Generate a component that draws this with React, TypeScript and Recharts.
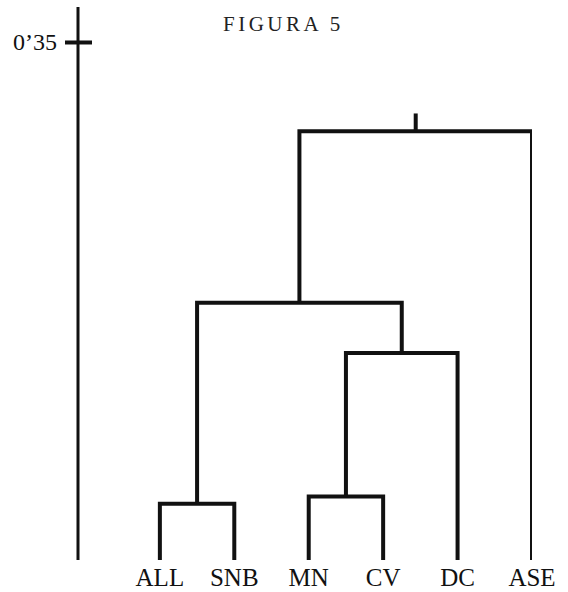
import React from 'react';
import { LineChart, Line, XAxis, YAxis } from 'recharts';

// leaves of the dendrogram, left to right
const leaves = ['ALL', 'SNB', 'MN', 'CV', 'DC', 'ASE'];

// merges: which nodes join and at what distance
// node ids: 0..5 are leaves, 6.. are merges in this order
const mergeLeft = [0, 2, 7, 6, 9];
const mergeRight = [1, 3, 4, 8, 5];
const mergeHeights = [0.038, 0.043, 0.14, 0.174, 0.29];
const rootTop = 0.302;

const yTicks = [0.35];
const yTickLabels = ["0\u201935"];

const FONT = '"Liberation Serif", "DejaVu Serif", serif';

type Pt = { x: number; y: number };

// position / height of every node
const nodeX: number[] = leaves.map((_, i) => i);
const nodeH: number[] = leaves.map(() => 0);
mergeHeights.forEach((h, i) => {
  nodeX.push((nodeX[mergeLeft[i]] + nodeX[mergeRight[i]]) / 2);
  nodeH.push(h);
});

const links: Pt[][] = mergeHeights.map((h, i) => {
  const l = mergeLeft[i];
  const r = mergeRight[i];
  return [
    { x: nodeX[l], y: nodeH[l] },
    { x: nodeX[l], y: h },
    { x: nodeX[r], y: h },
    { x: nodeX[r], y: nodeH[r] },
  ];
});
const rootId = nodeX.length - 1;
links.push([
  { x: nodeX[rootId], y: nodeH[rootId] },
  { x: nodeX[rootId], y: rootTop },
]);

const YTick = (props: any) => {
  const { x, y, payload } = props;
  const idx = yTicks.indexOf(payload.value);
  return (
    <g>
      <line x1={x - 13} y1={y} x2={x + 14} y2={y} stroke="#111" strokeWidth={4} />
      <text x={x - 21} y={y} dy={8} textAnchor="end" fontFamily={FONT} fontSize={24} fill="#111">
        {yTickLabels[idx]}
      </text>
    </g>
  );
};

const App = () => {
  return (
    <div style={{ position: 'absolute', left: 0, top: 0, width: 568, height: 592, background: '#fff' }}>
      <div
        style={{
          position: 'absolute',
          left: 223,
          top: 12,
          fontFamily: FONT,
          fontSize: 21,
          letterSpacing: 3.5,
          color: '#222',
          lineHeight: '24px',
        }}
      >
        FIGURA 5
      </div>
      <LineChart width={568} height={592} margin={{ top: 7, right: 36, bottom: 0, left: 0 }}>
        <XAxis
          type="number"
          dataKey="x"
          domain={[-1.1, 5]}
          allowDataOverflow
          ticks={[0, 1, 2, 3, 4, 5]}
          tickFormatter={(v: number) => leaves[v] ?? ''}
          axisLine={false}
          tickLine={false}
          tickSize={0}
          tickMargin={8}
          height={32}
          interval={0}
          tick={{ fontFamily: FONT, fontSize: 25, fill: '#111' }}
        />
        <YAxis
          type="number"
          dataKey="y"
          domain={[0, 0.374]}
          allowDataOverflow
          ticks={yTicks}
          width={78}
          axisLine={{ stroke: '#111', strokeWidth: 3 }}
          tickLine={false}
          tickSize={0}
          tickMargin={0}
          tick={<YTick />}
        />
        {links.map((d, i) => (
          <Line
            key={i}
            data={d}
            dataKey="y"
            type="linear"
            stroke="#111"
            strokeWidth={4}
            dot={false}
            activeDot={false}
            isAnimationActive={false}
          />
        ))}
      </LineChart>
    </div>
  );
};

export default App;
